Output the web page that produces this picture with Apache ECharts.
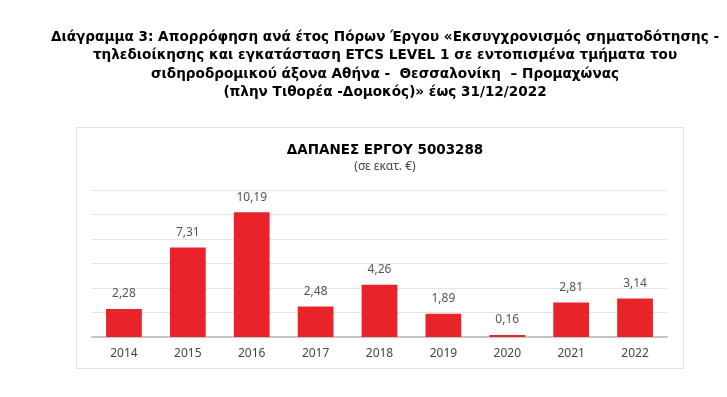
<!DOCTYPE html>
<html>
<head>
<meta charset="utf-8">
<script src="https://cdn.jsdelivr.net/npm/echarts@6/dist/echarts.min.js"></script>
<style>
  html, body { margin: 0; padding: 0; background: #fff; }
  #main { width: 727px; height: 397px; }
</style>
</head>
<body>
<div id="main"></div>
<script>
// έτη και δαπάνες (σε εκατ. €)
const years = ['2014', '2015', '2016', '2017', '2018', '2019', '2020', '2021', '2022'];
const spend = [2.28, 7.31, 10.19, 2.48, 4.26, 1.89, 0.16, 2.81, 3.14];

const heading = [
  'Διάγραμμα 3: Απορρόφηση ανά έτος Πόρων Έργου «Εκσυγχρονισμός σηματοδότησης -',
  'τηλεδιοίκησης και εγκατάσταση ETCS LEVEL 1 σε εντοπισμένα τμήματα του',
  'σιδηροδρομικού άξονα Αθήνα -  Θεσσαλονίκη  – Προμαχώνας',
  '(πλην Τιθορέα -Δομοκός)» έως 31/12/2022'
];

const chart = echarts.init(document.getElementById('main'));

const option = {
  backgroundColor: '#fff',
  animation: false,
  title: [{
    text: heading.join('\n'),
    left: 380,
    top: 23,
    textAlign: 'center',
    textStyle: {
      fontFamily: 'DejaVu Sans',
      fontWeight: 'bold',
      fontSize: 13.6,
      lineHeight: 18.5,
      color: '#000'
    }
  }, {
    text: 'ΔΑΠΑΝΕΣ ΕΡΓΟΥ 5003288',
    subtext: '(σε εκατ. €)',
    left: 380,
    top: 138,
    textAlign: 'center',
    itemGap: 4,
    textStyle: {
      fontFamily: 'DejaVu Sans',
      fontWeight: 'bold',
      fontSize: 13.5,
      color: '#000'
    },
    subtextStyle: {
      fontFamily: 'Noto Sans',
      fontSize: 12,
      color: '#444'
    }
  }],
  graphic: [{
    type: 'rect',
    shape: { x: 76.5, y: 127.5, width: 607, height: 241 },
    style: { fill: 'none', stroke: '#e2e2e2', lineWidth: 1 },
    z: -1
  }],
  grid: {
    left: 92,
    right: 60,
    top: 190,
    bottom: 60
  },
  xAxis: {
    type: 'category',
    data: years,
    axisTick: { show: false },
    axisLine: { lineStyle: { color: '#c4c4c4', width: 2 } },
    axisLabel: {
      margin: 11,
      fontFamily: 'Noto Sans',
      fontSize: 12,
      color: '#444'
    }
  },
  yAxis: {
    type: 'value',
    min: 0,
    max: 12,
    interval: 2,
    axisLabel: { show: false },
    axisLine: { show: false },
    axisTick: { show: false },
    splitLine: { lineStyle: { color: '#e4e4e4', width: 1 } }
  },
  series: [{
    type: 'bar',
    data: spend,
    barWidth: '56%',
    itemStyle: { color: '#e8242a' },
    label: {
      show: true,
      position: 'top',
      distance: 9,
      fontFamily: 'Noto Sans',
      fontSize: 12,
      color: '#555',
      formatter: p => p.value.toFixed(2).replace('.', ',')
    }
  }]
};

chart.setOption(option);
</script>
</body>
</html>
